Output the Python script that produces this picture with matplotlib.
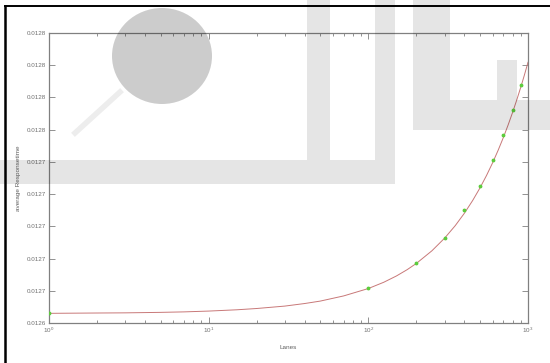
import matplotlib
matplotlib.use('Agg')
import matplotlib.pyplot as plt
from matplotlib.ticker import FormatStrFormatter, LogLocator
from matplotlib.patches import Ellipse, Rectangle
from matplotlib.lines import Line2D

# measured points (lanes vs average response time)
lanes = [1, 100, 200, 300, 400, 500, 600, 700, 800, 900]
resp = [0.012646, 0.012662, 0.012677, 0.012693, 0.012710,
        0.012725, 0.012741, 0.012757, 0.012772, 0.012788]

# fitted curve
fit_lanes = [1, 2, 3, 5, 7, 10, 15, 20, 30, 40, 50, 70, 100, 125, 150, 175,
             200, 250, 300, 350, 400, 450, 500, 550, 600, 650, 700, 750,
             800, 850, 900, 950, 1000]
fit_resp = [0.0126460, 0.0126462, 0.0126463, 0.0126466, 0.0126469,
            0.0126474, 0.0126482, 0.0126490, 0.0126505, 0.0126521,
            0.0126536, 0.0126568, 0.0126614, 0.0126653, 0.0126692,
            0.0126731, 0.0126770, 0.0126848, 0.0126926, 0.0127004,
            0.0127082, 0.0127160, 0.0127238, 0.0127316, 0.0127394,
            0.0127472, 0.0127550, 0.0127628, 0.0127706, 0.0127784,
            0.0127862, 0.0127940, 0.0128018]

yticks = [0.01264, 0.01266, 0.01268, 0.01270, 0.01272,
          0.01274, 0.01276, 0.01278, 0.01280, 0.01282]

W, H = 550, 363
fig = plt.figure(figsize=(5.5, 3.63), dpi=100)
plt.rcParams['font.family'] = 'Liberation Sans'

ax = fig.add_axes([49 / W, 1 - 323 / H, (528 - 49) / W, (323 - 33) / H])
ax.plot(fit_lanes, fit_resp, color='#c87878', lw=0.7, zorder=2)
ax.plot(lanes, resp, '.', color='#5ccc3c', ms=3.5, zorder=3)

ax.set_xscale('log')
ax.set_xlim(1, 1000)
ax.set_ylim(yticks[0], yticks[-1])
ax.set_yticks(yticks)
ax.yaxis.set_major_formatter(FormatStrFormatter('%.4f'))
ax.xaxis.set_major_locator(LogLocator(base=10, numticks=10))

gray = '#808080'
for s in ax.spines.values():
    s.set_color(gray)
    s.set_linewidth(0.9)
ax.tick_params(which='both', direction='in', top=True, right=True,
               colors=gray, labelsize=4.5, width=0.6)
ax.tick_params(which='major', length=4, pad=2)
ax.tick_params(which='minor', length=2)
for lab in ax.get_xticklabels() + ax.get_yticklabels():
    lab.set_color('#707070')

ax.set_xlabel('Lanes', fontsize=4.6, color='#606060', labelpad=7)
ax.set_ylabel('average Responsetime', fontsize=4.6, color='#606060', labelpad=4)


# watermark overlay and page frame
def px(x, y):
    return x / W, 1 - y / H


wm = dict(transform=fig.transFigure, zorder=10, lw=0)
fig.add_artist(Ellipse(px(162, 56), 100 / W, 96 / H, color='black', alpha=0.2, **wm))
fig.add_artist(Line2D([120 / W, 75 / W], [1 - 92 / H, 1 - 133 / H], color='black',
                      alpha=0.07, lw=4, transform=fig.transFigure, zorder=10))
bands = [(0, 160, 395, 184), (307, 0, 330, 160), (375, 0, 395, 160),
         (413, 0, 450, 100), (413, 100, 550, 130), (497, 60, 517, 100)]
for x0, y0, x1, y1 in bands:
    fig.add_artist(Rectangle(px(x0, y1), (x1 - x0) / W, (y1 - y0) / H,
                             color='black', alpha=0.1, **wm))

fig.add_artist(Line2D([5 / W, 5 / W], [0, 1 - 6 / H], color='black', lw=1.8,
                      transform=fig.transFigure))
fig.add_artist(Line2D([5 / W, 1], [1 - 6 / H, 1 - 6 / H], color='black', lw=1.4,
                      transform=fig.transFigure))

fig.savefig('out.png', dpi=100)
